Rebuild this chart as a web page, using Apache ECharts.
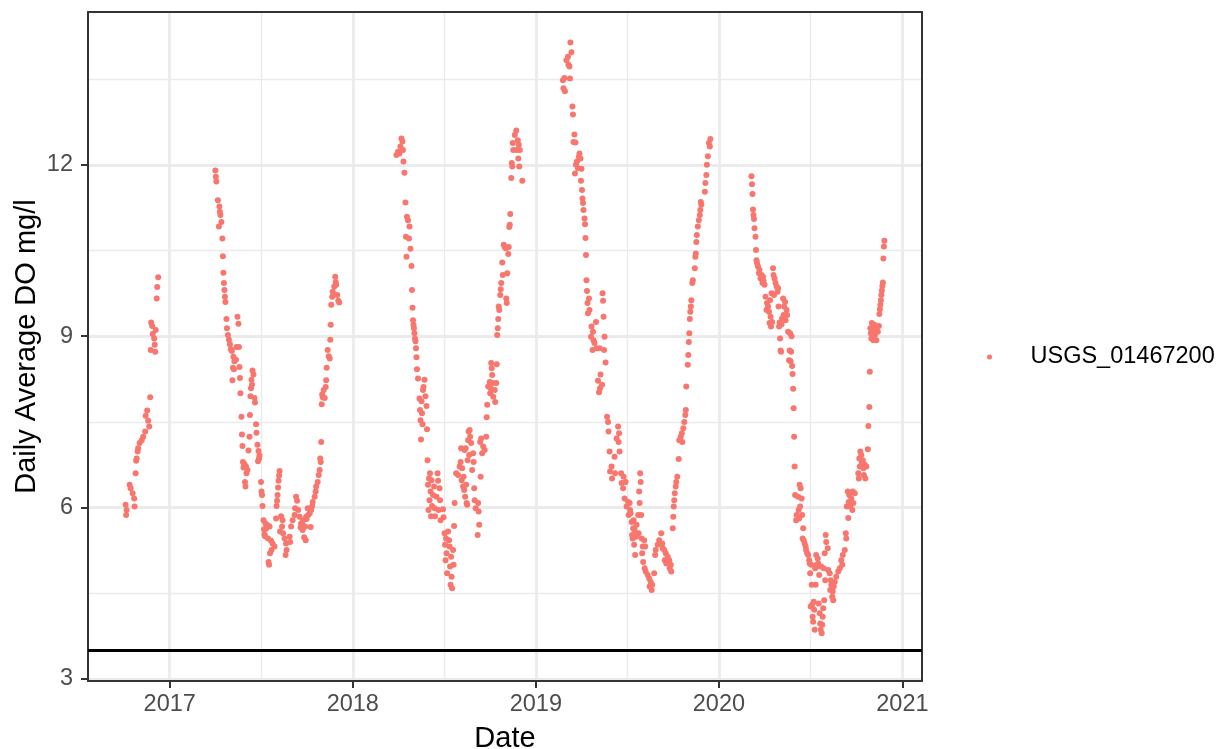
<!DOCTYPE html>
<html>
<head>
<meta charset="utf-8">
<script src="https://cdn.jsdelivr.net/npm/echarts@6.0.0/dist/echarts.min.js"></script>
<style>
html,body{margin:0;padding:0;background:#ffffff;}
#chart{width:1227px;height:749px;}
</style>
</head>
<body>
<div id="chart"></div>
<script>
// ---- data (daily average dissolved oxygen, mg/l) ----
const seriesName = 'USGS_01467200';

const obs2016 = [
['2016-10-05',6.05],['2016-10-06',5.87],['2016-10-07',5.96],['2016-10-13',6.40],['2016-10-15',6.34],
['2016-10-19',6.25],['2016-10-22',6.16],['2016-10-23',6.02],['2016-10-25',6.60],['2016-10-26',6.82],
['2016-10-27',6.86],['2016-10-29',6.98],['2016-10-30',7.04],['2016-11-02',7.13],['2016-11-06',7.18],
['2016-11-09',7.24],['2016-11-13',7.33],['2016-11-14',7.61],['2016-11-17',7.70],['2016-11-19',7.52],
['2016-11-21',7.42],['2016-11-23',7.93],['2016-11-24',8.76],['2016-11-25',9.24],['2016-11-27',9.18],
['2016-11-28',9.04],['2016-12-01',8.96],['2016-12-02',8.85],['2016-12-03',8.73],['2016-12-04',9.11],
['2016-12-06',9.66],['2016-12-07',9.86],['2016-12-09',10.03]
];

const obs2017 = [
['2017-04-02',11.90],['2017-04-03',11.79],['2017-04-04',11.71],['2017-04-07',11.38],['2017-04-09',10.92],
['2017-04-10',11.27],['2017-04-11',11.18],['2017-04-12',11.12],['2017-04-14',11.00],['2017-04-16',10.71],
['2017-04-17',10.40],['2017-04-18',10.11],['2017-04-19',9.93],['2017-04-20',9.81],['2017-04-21',9.69],
['2017-04-22',9.60],['2017-04-24',9.30],['2017-04-25',9.14],['2017-04-27',9.02],['2017-04-29',8.94],
['2017-05-01',8.86],['2017-05-03',8.77],['2017-05-05',8.74],['2017-05-06',8.23],['2017-05-07',8.45],
['2017-05-08',8.64],['2017-05-09',8.42],['2017-05-10',8.56],['2017-05-13',8.59],['2017-05-14',8.81],
['2017-05-16',9.34],['2017-05-18',9.22],['2017-05-19',8.81],['2017-05-20',8.46],['2017-05-21',8.27],
['2017-05-22',8.00],['2017-05-24',7.59],['2017-05-25',7.28],['2017-05-26',7.08],['2017-05-27',6.80],
['2017-05-28',6.70],['2017-05-30',6.76],['2017-05-31',6.45],['2017-06-01',6.37],['2017-06-02',6.72],
['2017-06-03',6.60],['2017-06-05',6.66],['2017-06-07',7.00],['2017-06-09',7.24],['2017-06-10',7.62],
['2017-06-11',7.95],['2017-06-12',8.09],['2017-06-13',8.24],['2017-06-14',8.15],['2017-06-15',8.40],
['2017-06-17',8.33],['2017-06-19',7.92],['2017-06-20',7.84],['2017-06-22',7.46],['2017-06-23',7.31],
['2017-06-25',7.10],['2017-06-26',6.81],['2017-06-27',6.99],['2017-06-28',6.86],['2017-06-29',6.91],
['2017-07-02',6.45],['2017-07-03',6.28],['2017-07-04',6.22],['2017-07-05',6.03],['2017-07-07',5.78],
['2017-07-08',5.62],['2017-07-09',5.53],['2017-07-10',5.50],['2017-07-11',5.72],['2017-07-12',5.63],
['2017-07-15',5.69],['2017-07-16',5.46],['2017-07-17',5.05],['2017-07-18',5.00],['2017-07-19',5.67],
['2017-07-20',5.20],['2017-07-22',5.42],['2017-07-23',5.26],['2017-07-25',5.37],['2017-07-29',5.32],
['2017-08-01',5.81],['2017-08-02',6.03],['2017-08-03',6.12],['2017-08-04',6.22],['2017-08-05',6.35],
['2017-08-06',6.47],['2017-08-07',6.56],['2017-08-08',6.64],['2017-08-09',5.58],['2017-08-11',5.85],
['2017-08-13',5.67],['2017-08-14',5.78],['2017-08-15',5.55],['2017-08-18',5.46],['2017-08-20',5.17],
['2017-08-21',5.37],['2017-08-22',5.26],['2017-08-28',5.49],['2017-08-29',5.40],['2017-08-31',5.67],
['2017-09-03',5.78],['2017-09-07',5.87],['2017-09-08',5.99],['2017-09-10',6.19],['2017-09-12',6.12],
['2017-09-14',5.96],['2017-09-17',5.84],['2017-09-19',5.65],['2017-09-20',5.72],['2017-09-22',5.73],
['2017-09-23',5.61],['2017-09-24',5.78],['2017-09-26',5.48],['2017-09-28',5.67],['2017-09-29',5.43],
['2017-09-30',5.84],['2017-10-01',5.80],['2017-10-03',5.99],['2017-10-04',5.87],['2017-10-07',5.90],
['2017-10-09',5.66],['2017-10-10',5.96],['2017-10-12',6.03],['2017-10-13',6.10],['2017-10-17',6.19],
['2017-10-19',6.28],['2017-10-20',6.37],['2017-10-23',6.45],['2017-10-25',6.57],['2017-10-27',6.66],
['2017-10-28',6.86],['2017-10-29',6.80],['2017-10-30',7.15],['2017-10-31',7.81],['2017-11-01',7.98],
['2017-11-02',7.93],['2017-11-04',8.06],['2017-11-06',7.92],['2017-11-08',8.11],['2017-11-09',8.23],
['2017-11-10',8.45],['2017-11-12',8.76],['2017-11-14',8.65],['2017-11-16',8.61],['2017-11-17',8.94],
['2017-11-18',9.20],['2017-11-19',9.55],['2017-11-21',9.69],['2017-11-22',9.78],['2017-11-25',9.87],
['2017-11-27',10.04],['2017-11-28',9.95],['2017-11-29',9.90],['2017-12-01',9.72],['2017-12-03',9.62],
['2017-12-05',9.59]
];

const obs2018 = [
['2018-03-29',12.17],['2018-04-01',12.23],['2018-04-04',12.20],['2018-04-06',12.32],['2018-04-08',12.46],
['2018-04-10',12.41],['2018-04-11',12.26],['2018-04-12',12.06],['2018-04-14',11.86],['2018-04-16',11.34],
['2018-04-17',10.74],['2018-04-18',10.39],['2018-04-19',11.09],['2018-04-21',11.03],['2018-04-23',10.71],
['2018-04-24',10.92],['2018-04-26',10.53],['2018-04-28',10.23],['2018-04-29',9.81],['2018-04-30',9.50],
['2018-05-01',9.28],['2018-05-02',9.20],['2018-05-03',9.14],['2018-05-04',9.05],['2018-05-05',8.96],
['2018-05-06',8.91],['2018-05-07',8.79],['2018-05-08',8.63],['2018-05-09',8.42],['2018-05-11',8.26],
['2018-05-14',7.91],['2018-05-15',7.71],['2018-05-16',7.53],['2018-05-17',7.19],['2018-05-18',7.86],
['2018-05-19',7.65],['2018-05-20',7.46],['2018-05-21',8.06],['2018-05-22',8.11],['2018-05-24',8.24],
['2018-05-26',7.95],['2018-05-28',7.78],['2018-05-29',7.37],['2018-05-30',6.83],['2018-05-31',6.40],
['2018-06-01',5.96],['2018-06-02',6.51],['2018-06-03',6.13],['2018-06-04',6.60],['2018-06-05',6.28],
['2018-06-06',5.85],['2018-06-07',6.48],['2018-06-08',6.03],['2018-06-10',6.22],['2018-06-12',6.37],
['2018-06-13',5.99],['2018-06-14',5.85],['2018-06-17',6.19],['2018-06-19',6.60],['2018-06-20',6.47],
['2018-06-21',5.96],['2018-06-23',6.34],['2018-06-24',6.13],['2018-06-25',5.78],['2018-06-30',5.97],
['2018-07-01',5.83],['2018-07-03',5.55],['2018-07-04',5.35],['2018-07-05',5.08],['2018-07-06',5.46],
['2018-07-07',5.20],['2018-07-08',4.85],['2018-07-10',5.58],['2018-07-12',5.43],['2018-07-13',5.32],
['2018-07-14',4.97],['2018-07-15',4.65],['2018-07-16',5.14],['2018-07-17',4.79],['2018-07-18',4.59],
['2018-07-20',5.26],['2018-07-21',5.00],['2018-07-22',5.68],['2018-07-23',6.08],['2018-07-26',6.60],
['2018-07-30',6.57],['2018-08-02',6.72],['2018-08-04',6.80],['2018-08-05',7.04],['2018-08-06',6.48],
['2018-08-07',6.69],['2018-08-09',6.37],['2018-08-10',6.54],['2018-08-11',6.31],['2018-08-12',7.01],
['2018-08-13',6.19],['2018-08-14',7.04],['2018-08-15',6.40],['2018-08-16',6.08],['2018-08-17',6.05],
['2018-08-18',6.83],['2018-08-19',7.18],['2018-08-20',7.33],['2018-08-21',6.92],['2018-08-22',7.36],
['2018-08-23',7.24],['2018-08-25',7.13],['2018-08-27',6.66],['2018-08-29',6.95],['2018-08-30',6.80],
['2018-08-31',6.34],['2018-09-01',6.13],['2018-09-03',5.99],['2018-09-07',5.52],['2018-09-08',6.08],
['2018-09-09',5.93],['2018-09-10',5.70],['2018-09-12',7.15],['2018-09-13',6.54],['2018-09-14',7.21],
['2018-09-16',6.95],['2018-09-18',7.07],['2018-09-21',7.01],['2018-09-24',7.24],['2018-09-25',7.58],
['2018-09-26',7.80],['2018-09-28',8.12],['2018-10-01',8.20],['2018-10-02',8.00],['2018-10-03',8.09],
['2018-10-04',8.53],['2018-10-05',8.44],['2018-10-06',8.32],['2018-10-07',8.18],['2018-10-08',7.94],
['2018-10-11',8.06],['2018-10-12',7.85],['2018-10-14',8.18],['2018-10-15',8.51],['2018-10-16',9.02],
['2018-10-17',9.14],['2018-10-18',9.30],['2018-10-19',9.52],['2018-10-20',9.46],['2018-10-22',9.72],
['2018-10-23',9.82],['2018-10-24',9.93],['2018-10-26',10.29],['2018-10-27',10.07],['2018-10-29',10.60],
['2018-10-31',10.56],['2018-11-02',10.54],['2018-11-03',9.66],['2018-11-04',9.58],['2018-11-05',10.10],
['2018-11-07',10.44],['2018-11-08',10.56],['2018-11-09',10.91],['2018-11-10',10.95],['2018-11-11',11.14],
['2018-11-13',11.77],['2018-11-14',12.03],['2018-11-15',11.97],['2018-11-16',12.38],['2018-11-17',12.26],
['2018-11-20',12.52],['2018-11-23',12.60],['2018-11-24',12.26],['2018-11-26',12.43],['2018-11-27',12.11],
['2018-11-28',12.35],['2018-11-29',11.97],['2018-11-30',12.26],['2018-12-05',11.72]
];

const obs2019 = [
['2019-02-24',13.48],['2019-02-25',13.34],['2019-02-27',13.52],['2019-02-28',13.29],['2019-03-03',13.83],
['2019-03-06',13.89],['2019-03-07',13.75],['2019-03-09',13.72],['2019-03-10',13.51],['2019-03-11',14.14],
['2019-03-13',13.97],['2019-03-15',13.02],['2019-03-16',12.88],['2019-03-17',12.40],['2019-03-19',12.53],
['2019-03-20',11.85],['2019-03-21',12.39],['2019-03-22',12.00],['2019-03-24',12.06],['2019-03-26',11.94],
['2019-03-28',12.14],['2019-03-29',12.20],['2019-03-31',12.11],['2019-04-01',11.72],['2019-04-02',11.93],
['2019-04-03',11.56],['2019-04-04',11.41],['2019-04-05',11.33],['2019-04-06',11.21],['2019-04-08',11.06],
['2019-04-09',10.96],['2019-04-10',10.72],['2019-04-11',10.42],['2019-04-12',9.98],['2019-04-13',9.79],
['2019-04-14',9.58],['2019-04-15',9.40],['2019-04-17',9.66],['2019-04-18',9.46],['2019-04-21',8.99],
['2019-04-22',9.17],['2019-04-24',8.76],['2019-04-25',9.08],['2019-04-26',8.93],['2019-04-28',8.88],
['2019-05-01',9.25],['2019-05-02',8.79],['2019-05-05',8.22],['2019-05-07',8.02],['2019-05-08',8.79],
['2019-05-09',8.09],['2019-05-10',8.33],['2019-05-13',8.15],['2019-05-14',9.75],['2019-05-15',9.62],
['2019-05-16',9.34],['2019-05-17',8.76],['2019-05-18',8.99],['2019-05-20',8.54],['2019-05-23',7.59],
['2019-05-25',7.50],['2019-05-26',7.33],['2019-05-28',6.98],['2019-05-29',6.63],['2019-06-01',6.72],
['2019-06-02',6.51],['2019-06-07',6.89],['2019-06-08',6.60],['2019-06-11',7.21],['2019-06-14',7.42],
['2019-06-15',7.15],['2019-06-16',7.30],['2019-06-17',6.98],['2019-06-20',6.60],['2019-06-21',6.43],
['2019-06-24',6.34],['2019-06-25',6.54],['2019-06-27',6.16],['2019-06-29',6.45],['2019-07-01',6.02],
['2019-07-04',6.10],['2019-07-05',5.87],['2019-07-07',6.08],['2019-07-08',5.96],['2019-07-09',5.90],
['2019-07-11',5.75],['2019-07-12',5.52],['2019-07-13',5.46],['2019-07-14',5.64],['2019-07-15',5.78],
['2019-07-16',5.35],['2019-07-17',5.61],['2019-07-18',5.17],['2019-07-19',5.52],['2019-07-20',5.49],
['2019-07-21',5.70],['2019-07-24',5.87],['2019-07-25',5.55],['2019-07-26',6.28],['2019-07-27',6.08],
['2019-07-28',6.60],['2019-07-29',6.45],['2019-07-30',5.87],['2019-07-31',5.46],['2019-08-01',5.20],
['2019-08-02',5.32],['2019-08-03',5.05],['2019-08-05',5.43],['2019-08-06',4.94],['2019-08-07',5.32],
['2019-08-08',4.88],['2019-08-12',4.82],['2019-08-15',4.76],['2019-08-16',4.62],['2019-08-18',4.70],
['2019-08-20',4.56],['2019-08-21',4.65],['2019-08-25',4.85],['2019-08-27',5.17],['2019-08-28',5.26],
['2019-09-01',5.35],['2019-09-04',5.43],['2019-09-08',5.55],['2019-09-10',5.37],['2019-09-11',5.29],
['2019-09-14',5.26],['2019-09-15',5.08],['2019-09-17',5.20],['2019-09-18',5.02],['2019-09-21',5.14],
['2019-09-24',5.08],['2019-09-25',4.94],['2019-09-27',5.00],['2019-09-28',4.88],['2019-10-01',5.64],
['2019-10-02',5.84],['2019-10-03',6.02],['2019-10-04',6.13],['2019-10-05',6.25],['2019-10-07',6.37],
['2019-10-08',6.45],['2019-10-10',6.54],['2019-10-13',6.85],['2019-10-14',7.18],['2019-10-17',7.24],
['2019-10-19',7.30],['2019-10-20',7.15],['2019-10-22',7.39],['2019-10-24',7.50],['2019-10-26',7.62],
['2019-10-27',7.71],['2019-10-28',8.12],['2019-10-31',8.50],['2019-11-01',8.67],['2019-11-02',8.90],
['2019-11-03',9.05],['2019-11-04',9.30],['2019-11-05',9.43],['2019-11-06',9.52],['2019-11-07',9.63],
['2019-11-09',9.93],['2019-11-10',9.98],['2019-11-14',10.19],['2019-11-15',10.39],['2019-11-16',10.45],
['2019-11-17',10.65],['2019-11-18',10.77],['2019-11-20',10.92],['2019-11-22',11.03],['2019-11-24',11.12],
['2019-11-25',11.21],['2019-11-26',11.35],['2019-11-27',11.30],['2019-12-04',11.53],['2019-12-05',11.68],
['2019-12-07',11.82],['2019-12-08',12.00],['2019-12-10',12.15],['2019-12-12',12.38],['2019-12-14',12.32],
['2019-12-15',12.45]
];

const obs2020 = [
['2020-03-06',11.80],['2020-03-07',11.66],['2020-03-08',11.49],['2020-03-09',11.22],['2020-03-10',11.12],
['2020-03-11',11.05],['2020-03-12',10.89],['2020-03-14',10.74],['2020-03-15',10.51],['2020-03-16',10.33],
['2020-03-17',10.28],['2020-03-19',10.22],['2020-03-21',10.10],['2020-03-22',10.16],['2020-03-24',10.01],
['2020-03-26',10.07],['2020-03-28',9.93],['2020-03-29',10.04],['2020-03-30',9.97],['2020-04-01',9.90],
['2020-04-03',9.69],['2020-04-05',9.46],['2020-04-06',9.58],['2020-04-08',9.52],['2020-04-10',9.43],
['2020-04-11',9.23],['2020-04-12',9.63],['2020-04-13',9.34],['2020-04-14',9.17],['2020-04-15',9.75],
['2020-04-16',9.25],['2020-04-18',10.19],['2020-04-19',10.07],['2020-04-20',9.72],['2020-04-21',10.01],
['2020-04-23',9.93],['2020-04-25',9.87],['2020-04-27',9.78],['2020-04-28',9.84],['2020-04-29',9.52],
['2020-04-30',9.17],['2020-05-01',9.24],['2020-05-02',8.96],['2020-05-03',8.75],['2020-05-04',8.73],
['2020-05-05',9.21],['2020-05-06',9.31],['2020-05-08',9.66],['2020-05-09',9.37],['2020-05-10',9.52],
['2020-05-12',9.60],['2020-05-13',9.28],['2020-05-15',9.46],['2020-05-16',9.37],['2020-05-18',9.08],
['2020-05-20',8.58],['2020-05-21',8.75],['2020-05-22',9.05],['2020-05-23',8.56],['2020-05-24',8.73],
['2020-05-25',9.00],['2020-05-26',8.48],['2020-05-27',8.34],['2020-05-28',8.08],['2020-05-29',7.74],
['2020-05-30',7.24],['2020-05-31',6.72],['2020-06-01',6.22],['2020-06-03',5.78],['2020-06-04',5.87],
['2020-06-07',6.19],['2020-06-08',5.96],['2020-06-09',5.81],['2020-06-10',6.40],['2020-06-11',6.02],
['2020-06-12',6.34],['2020-06-14',6.16],['2020-06-15',5.87],['2020-06-16',5.46],['2020-06-17',5.64],
['2020-06-18',5.43],['2020-06-20',5.37],['2020-06-22',5.32],['2020-06-23',5.26],['2020-06-25',5.20],
['2020-06-27',5.17],['2020-06-29',5.08],['2020-06-30',5.02],['2020-07-01',4.85],['2020-07-02',4.27],
['2020-07-03',5.00],['2020-07-04',4.65],['2020-07-05',4.30],['2020-07-06',4.09],['2020-07-07',4.00],
['2020-07-08',4.35],['2020-07-09',4.21],['2020-07-10',3.86],['2020-07-11',4.94],['2020-07-12',4.65],
['2020-07-13',5.17],['2020-07-14',5.00],['2020-07-15',4.97],['2020-07-16',5.11],['2020-07-17',5.02],
['2020-07-18',4.32],['2020-07-19',4.82],['2020-07-20',4.15],['2020-07-21',3.97],['2020-07-22',3.86],
['2020-07-23',4.97],['2020-07-24',3.80],['2020-07-25',3.95],['2020-07-26',4.09],['2020-07-27',4.24],
['2020-07-28',4.94],['2020-07-29',4.38],['2020-07-30',5.20],['2020-07-31',4.73],['2020-08-01',5.52],
['2020-08-02',5.40],['2020-08-05',5.29],['2020-08-06',4.91],['2020-08-09',4.85],['2020-08-10',4.56],
['2020-08-11',4.73],['2020-08-12',4.65],['2020-08-14',4.44],['2020-08-15',4.53],['2020-08-16',4.38],
['2020-08-17',4.62],['2020-08-19',4.70],['2020-08-22',4.79],['2020-08-26',4.88],['2020-08-29',4.94],
['2020-09-01',5.08],['2020-09-03',5.00],['2020-09-04',5.17],['2020-09-08',5.26],['2020-09-10',5.55],
['2020-09-11',5.46],['2020-09-12',6.02],['2020-09-14',6.28],['2020-09-15',5.82],['2020-09-16',6.10],
['2020-09-17',6.22],['2020-09-19',6.02],['2020-09-21',6.16],['2020-09-23',5.96],['2020-09-24',6.28],
['2020-09-25',6.08],['2020-09-28',6.25],['2020-10-05',6.60],['2020-10-06',6.51],['2020-10-07',6.86],
['2020-10-08',6.72],['2020-10-09',6.98],['2020-10-11',6.92],['2020-10-12',6.79],['2020-10-14',6.83],
['2020-10-15',6.69],['2020-10-16',6.57],['2020-10-18',6.75],['2020-10-19',6.51],['2020-10-21',6.72],
['2020-10-24',7.02],['2020-10-25',7.43],['2020-10-27',7.76],['2020-10-28',8.38],['2020-10-29',9.14],
['2020-10-30',9.05],['2020-10-31',8.96],['2020-11-01',9.23],['2020-11-03',9.11],['2020-11-04',8.93],
['2020-11-06',9.20],['2020-11-07',9.02],['2020-11-09',9.14],['2020-11-10',8.93],['2020-11-13',9.08],
['2020-11-15',9.18],['2020-11-16',9.39],['2020-11-17',9.47],['2020-11-18',9.55],['2020-11-19',9.63],
['2020-11-20',9.72],['2020-11-21',9.80],['2020-11-22',9.88],['2020-11-23',9.94],['2020-11-24',10.36],
['2020-11-25',10.57],['2020-11-26',10.67]
];

// reference line (mg/l)
const thresholdDO = 3.5;

// axis ticks and limits
const xMajorTicks = ['2017-01-01','2018-01-01','2019-01-01','2020-01-01','2021-01-01'];
const xMinorTicks = ['2017-07-02','2018-07-02','2019-07-02','2020-07-02'];
const xLimits = ['2016-07-22','2021-02-09'];
const yMajorTicks = [3, 6, 9, 12];
const yMinorTicks = [4.5, 7.5, 10.5, 13.5];
const yLimits = [2.965, 14.675];

// ---- chart ----
const P = s => echarts.time.parse(s).getTime();
const FONT = '"Liberation Sans", Arial, Helvetica, sans-serif';
const majorGrid = { color: '#EBEBEB', width: 2.8 };
const minorGrid = { color: '#EBEBEB', width: 1.4 };
const borderLine = { show: true, onZero: false, lineStyle: { color: '#333333', width: 2 } };
const tickStyle = { color: '#333333', width: 2 };

const allObs = [].concat(obs2016, obs2017, obs2018, obs2019, obs2020)
  .map(([d, v]) => [P(d), v]);

const chart = echarts.init(document.getElementById('chart'), null, { renderer: 'canvas' });
chart.setOption({
  animation: false,
  backgroundColor: '#ffffff',
  textStyle: { fontFamily: FONT },
  grid: { left: 88, right: 305, top: 12, bottom: 68, containLabel: false, outerBoundsMode: 'none' },
  legend: {
    data: [seriesName],
    left: 987, top: 345, padding: 0,
    orient: 'vertical',
    icon: 'circle',
    itemWidth: 72, itemHeight: 5,
    textStyle: { fontSize: 23.5, color: '#000000', fontFamily: FONT },
    selectedMode: false
  },
  xAxis: [
    {
      type: 'value', position: 'bottom', scale: true,
      min: P(xLimits[0]), max: P(xLimits[1]),
      name: 'Date', nameLocation: 'middle', nameGap: 43, nameMoveOverlap: false,
      nameTextStyle: { fontSize: 29, color: '#000000', fontFamily: FONT },
      axisLine: borderLine,
      axisTick: { show: true, inside: false, length: 7, lineStyle: tickStyle, customValues: xMajorTicks.map(P) },
      axisLabel: {
        customValues: xMajorTicks.map(P),
        formatter: v => String(new Date(v).getFullYear()),
        fontSize: 23.5, color: '#4D4D4D', margin: 12, fontFamily: FONT
      },
      splitLine: { show: true, lineStyle: majorGrid }
    },
    {
      type: 'value', position: 'top', scale: true,
      min: P(xLimits[0]), max: P(xLimits[1]),
      axisLine: borderLine,
      axisTick: { show: false, customValues: xMinorTicks.map(P) },
      axisLabel: { show: false },
      splitLine: { show: true, lineStyle: minorGrid }
    }
  ],
  yAxis: [
    {
      type: 'value', position: 'left', scale: true,
      min: yLimits[0], max: yLimits[1],
      name: 'Daily Average DO mg/l', nameLocation: 'middle', nameGap: 47, nameRotate: 90,
      nameMoveOverlap: false,
      nameTextStyle: { fontSize: 29, color: '#000000', fontFamily: FONT },
      axisLine: borderLine,
      axisTick: { show: true, inside: false, length: 7, lineStyle: tickStyle, customValues: yMajorTicks },
      axisLabel: { customValues: yMajorTicks, fontSize: 23.5, color: '#4D4D4D', margin: 15, fontFamily: FONT },
      splitLine: { show: true, lineStyle: majorGrid }
    },
    {
      type: 'value', position: 'right', scale: true,
      min: yLimits[0], max: yLimits[1],
      axisLine: borderLine,
      axisTick: { show: false, customValues: yMinorTicks },
      axisLabel: { show: false },
      splitLine: { show: true, lineStyle: minorGrid }
    }
  ],
  series: [
    {
      name: seriesName,
      type: 'scatter',
      xAxisIndex: 0, yAxisIndex: 0,
      data: allObs,
      symbol: 'circle',
      symbolSize: 6,
      itemStyle: { color: '#F8766D', opacity: 1 },
      emphasis: { disabled: true },
      z: 3,
      markLine: {
        silent: true,
        symbol: ['none', 'none'],
        label: { show: false },
        lineStyle: { color: '#000000', width: 2.8, type: 'solid' },
        data: [{ yAxis: thresholdDO }]
      }
    }
  ]
});
</script>
</body>
</html>
